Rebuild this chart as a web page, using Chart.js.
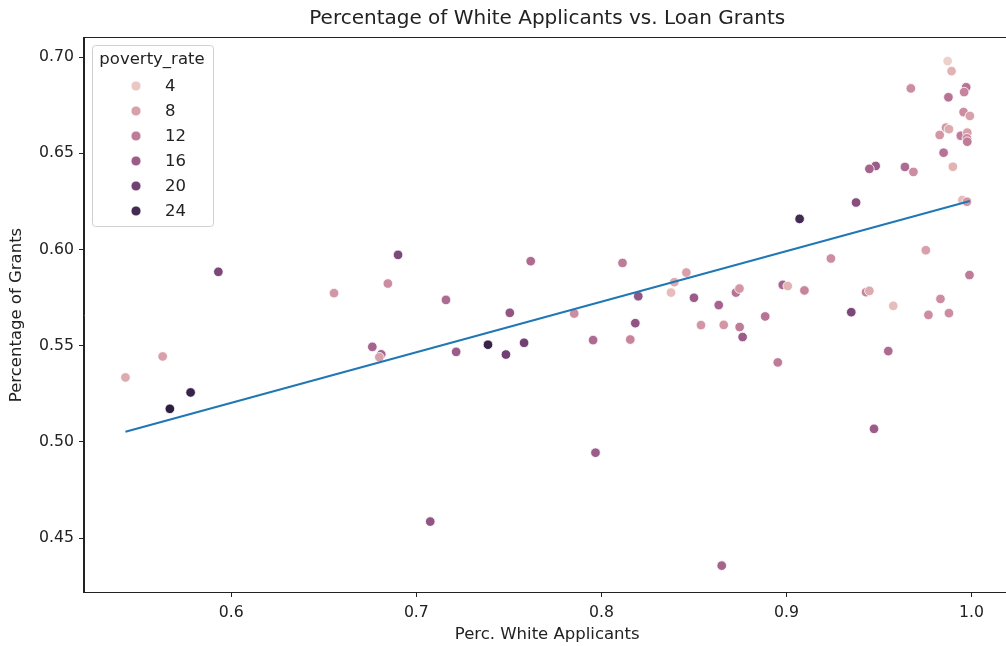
<!DOCTYPE html>
<html>
<head>
<meta charset="utf-8">
<script src="https://cdn.jsdelivr.net/npm/chart.js@4"></script>
<style>
  html, body { margin: 0; background: #fff; overflow: hidden; }
  canvas { display: block; }
</style>
</head>
<body>
<!-- the reference figure is cut off on the right, so the canvas is a bit wider than the window -->
<canvas id="scatterChart" width="1016" height="646"></canvas>
<script>
// data
const percWhite = [0.5428, 0.5629, 0.593, 0.5668, 0.578, 0.6555, 0.6762, 0.681, 0.680, 0.6901,
  0.6846, 0.716, 0.7618, 0.8114, 0.7505, 0.7853, 0.8199, 0.8183, 0.7215, 0.7387,
  0.7484, 0.7582, 0.7955, 0.8156, 0.995, 0.9975, 0.9376, 0.9071, 0.8459, 0.8394,
  0.8376, 0.9753, 0.924, 0.9989, 0.85, 0.8634, 0.8727, 0.8746, 0.898, 0.9007,
  0.9097, 0.943, 0.9448, 0.9577, 0.9832, 0.9767, 0.9878, 0.935, 0.8538, 0.8661,
  0.8747, 0.8763, 0.8885, 0.8953, 0.955, 0.9473, 0.7075, 0.7968, 0.865, 0.9871,
  0.9892, 0.9672, 0.9971, 0.996, 0.9875, 0.9957, 0.9991, 0.9862, 0.9878, 0.9828,
  0.9942, 0.9977, 0.9975, 0.9977, 0.9849, 0.9899, 0.9482, 0.9448, 0.964, 0.9686];
const grantPct = [0.5335, 0.5444, 0.5884, 0.5172, 0.5257, 0.5773, 0.5494, 0.5455, 0.5440, 0.5972,
  0.5823, 0.5738, 0.5939, 0.593, 0.5671, 0.5667, 0.5757, 0.5617, 0.5468, 0.5505,
  0.5454, 0.5515, 0.5529, 0.5532, 0.6257, 0.6248, 0.6244, 0.6159, 0.588, 0.583,
  0.5776, 0.5996, 0.5953, 0.5867, 0.5749, 0.5711, 0.5776, 0.5797, 0.5816, 0.581,
  0.5787, 0.5778, 0.5785, 0.5707, 0.5743, 0.566, 0.5669, 0.5674, 0.5607, 0.5608,
  0.5597, 0.5545, 0.5652, 0.5413, 0.5472, 0.5068, 0.4586, 0.4944, 0.4357, 0.6979,
  0.6927, 0.6837, 0.6843, 0.6818, 0.6791, 0.6714, 0.6694, 0.6633, 0.6625, 0.6595,
  0.6591, 0.6607, 0.6578, 0.656, 0.6503, 0.643, 0.6434, 0.6419, 0.6429, 0.6403];
const povertyRate = [7, 8, 19, 26, 25, 9, 15, 15, 8, 19,
  10, 14, 14, 12, 17, 10, 17, 17, 16, 25,
  20, 20, 14, 11, 5, 9, 18, 24, 8, 7,
  5, 8, 10, 12, 16, 15, 13, 9, 15, 6,
  11, 11, 7, 5, 10, 10, 10, 19, 9, 9,
  12, 16, 13, 12, 14, 16, 17, 16, 15, 3,
  6, 10, 13, 11, 13, 10, 8, 9, 7, 9,
  12, 8, 10, 12, 13, 6, 16, 15, 14, 10];

// regression line end points
const fitX = [0.5428, 0.9991];
const fitY = [0.5053, 0.6252];

const xTicks = [0.6, 0.7, 0.8, 0.9, 1.0];
const yTicks = [0.45, 0.50, 0.55, 0.60, 0.65, 0.70];
const legendLevels = [4, 8, 12, 16, 20, 24];
const chartTitle = "Percentage of White Applicants vs. Loan Grants";

const povMin = Math.min(...povertyRate);
const povMax = Math.max(...povertyRate);

//seaborn's default cubehelix colormap (light .85 -> dark .15)
function cubehelix(t) {
    const x = 0.85 + (0.15 - 0.85) * t;
    const a = 0.8 * x * (1 - x) / 2;
    const phi = 2 * Math.PI * (0.4 * x);
    const c = Math.cos(phi), s = Math.sin(phi);
    let r = x + a * (-0.14861 * c + 1.78277 * s);
    let g = x + a * (-0.29227 * c - 0.90649 * s);
    let b = x + a * (1.97294 * c);
    const clip = v => Math.round(255 * Math.max(0, Math.min(1, v)));
    return `rgb(${clip(r)}, ${clip(g)}, ${clip(b)})`;
}
function povColor(v) {
    return cubehelix((v - povMin) / (povMax - povMin));
}

const points = percWhite.map((x, i) => ({x: x, y: grantPct[i]}));
const pointColors = povertyRate.map(povColor);
const fitLine = fitX.map((x, i) => ({x: x, y: fitY[i]}));

const FONT = "'DejaVu Sans', sans-serif";

//title centred over the axes, top and right spines, and the hue legend
const framePlugin = {
    id: "frame",
    afterDraw(chart) {
        const ctx = chart.ctx;
        const area = chart.chartArea;
        ctx.save();
        ctx.fillStyle = "#222";
        ctx.font = "20px " + FONT;
        ctx.textAlign = "center";
        ctx.textBaseline = "middle";
        ctx.fillText(chartTitle, (area.left + area.right) / 2, 19);

        ctx.strokeStyle = "#222";
        ctx.lineWidth = 1;
        ctx.strokeRect(Math.round(area.left) - 0.5, Math.round(area.top) - 0.5,
            Math.round(area.right - area.left) + 1, Math.round(area.bottom - area.top) + 1);

        // legend box
        const bx = 92.5, by = 45.5, bw = 121, bh = 181;
        ctx.fillStyle = "rgba(255,255,255,0.8)";
        ctx.strokeStyle = "#d0d0d0";
        ctx.beginPath();
        ctx.roundRect(bx, by, bw, bh, 3);
        ctx.fill();
        ctx.stroke();
        ctx.fillStyle = "#222";
        ctx.font = "16.5px " + FONT;
        ctx.textAlign = "center";
        ctx.fillText("poverty_rate", 152, 60);
        ctx.textAlign = "left";
        legendLevels.forEach((lvl, i) => {
            const cy = 86 + i * 25;
            ctx.beginPath();
            ctx.arc(136, cy, 5, 0, Math.PI * 2);
            ctx.fillStyle = povColor(lvl);
            ctx.fill();
            ctx.strokeStyle = "#fff";
            ctx.lineWidth = 0.8;
            ctx.stroke();
            ctx.fillStyle = "#222";
            ctx.fillText(String(lvl), 165, cy + 1);
        });
        ctx.restore();
    }
};

const ctx = document.getElementById("scatterChart").getContext("2d");
new Chart(ctx, {
    type: "scatter",
    data: {
        datasets: [{
            type: "line",
            data: fitLine,
            borderColor: "#1f77b4",
            borderWidth: 2,
            pointRadius: 0,
            fill: false,
            order: 0
        }, {
            data: points,
            backgroundColor: pointColors,
            borderColor: "#ffffff",
            borderWidth: 0.8,
            pointRadius: 4.8,
            order: 1
        }]
    },
    options: {
        responsive: false,
        animation: false,
        devicePixelRatio: 1,
        layout: {padding: {left: 0, right: 1, top: 38, bottom: 0}},
        plugins: {
            legend: {display: false},
            tooltip: {enabled: false},
            title: {display: false}
        },
        scales: {
            x: {
                type: "linear",
                min: 0.5204,
                max: 1.021,
                afterBuildTicks: scale => { scale.ticks = xTicks.map(v => ({value: v})); },
                afterFit: scale => { scale.height = 54; },
                ticks: {
                    color: "#222",
                    font: {family: FONT, size: 15.7},
                    padding: 7,
                    maxRotation: 0,
                    callback: v => Number(v).toFixed(1)
                },
                grid: {drawOnChartArea: false, drawTicks: true, tickLength: 5, tickColor: "#222"},
                border: {display: true, color: "#222", width: 1},
                title: {
                    display: true,
                    text: "Perc. White Applicants",
                    color: "#222",
                    font: {family: FONT, size: 16.5},
                    padding: {top: 0, bottom: 1}
                }
            },
            y: {
                type: "linear",
                min: 0.422,
                max: 0.7099,
                afterBuildTicks: scale => { scale.ticks = yTicks.map(v => ({value: v})); },
                afterFit: scale => { scale.width = 84; },
                ticks: {
                    color: "#222",
                    font: {family: FONT, size: 15.7},
                    padding: 5,
                    callback: v => Number(v).toFixed(2)
                },
                grid: {drawOnChartArea: false, drawTicks: true, tickLength: 5, tickColor: "#222"},
                border: {display: true, color: "#222", width: 1},
                title: {
                    display: true,
                    text: "Percentage of Grants",
                    color: "#222",
                    font: {family: FONT, size: 16.5},
                    padding: {top: 7, bottom: 0}
                }
            }
        }
    },
    plugins: [framePlugin]
});
</script>
</body>
</html>
